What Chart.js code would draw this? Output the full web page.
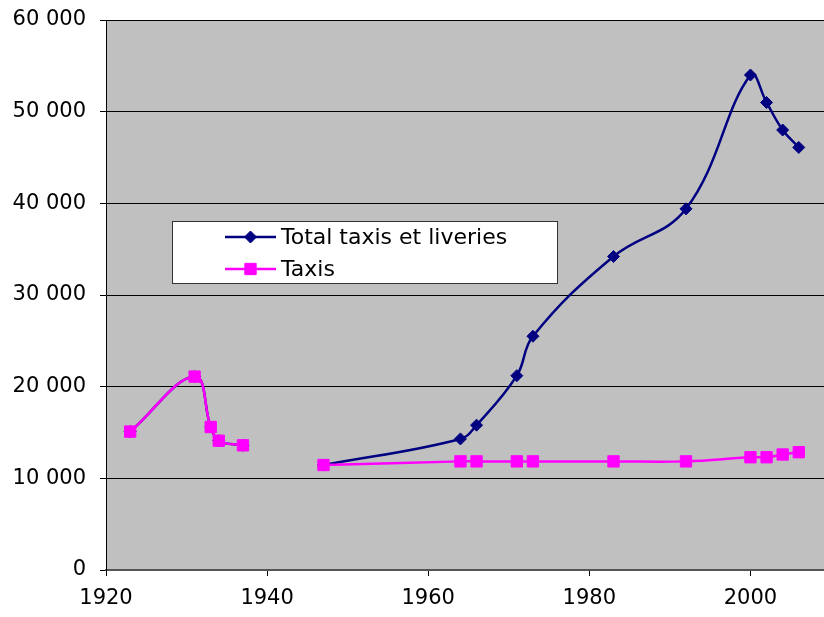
<!DOCTYPE html>
<html>
<head>
<meta charset="utf-8">
<script src="https://cdn.jsdelivr.net/npm/chart.js@4/dist/chart.umd.min.js"></script>
<style>
  html, body { margin: 0; padding: 0; background: #fff; overflow: hidden; }
  canvas { display: block; }
</style>
</head>
<body>
<canvas id="taxiChart" width="840" height="617"></canvas>
<script>
// years (1940 = gap between the two periods)
const years = [1923, 1931, 1933, 1934, 1937, 1940, 1947, 1964, 1966, 1971, 1973, 1983, 1992, 2000, 2002, 2004, 2006];
const totalTaxisLiveries = [15100, 21100, 15600, 14100, 13600, null, 11450, 14300, 15800, 21200, 25500, 34200, 39400, 54000, 51000, 48000, 46100];
const taxis = [15100, 21100, 15600, 14100, 13600, null, 11450, 11850, 11850, 11850, 11850, 11850, 11850, 12300, 12300, 12600, 12850];
const seriesNames = ['Total taxis et liveries', 'Taxis'];
const xTicks = [1920, 1940, 1960, 1980, 2000];
const yTicks = [0, 10000, 20000, 30000, 40000, 50000, 60000];

function fmt(v) {
  return String(v).replace(/\B(?=(\d{3})+(?!\d))/g, ' ');
}

Chart.defaults.font.family = 'DejaVu Sans';
Chart.defaults.font.size = 21;
Chart.defaults.color = '#000';

// grey plot area
const plotBg = {
  id: 'plotBg',
  beforeDraw(chart) {
    const a = chart.chartArea;
    const ctx = chart.ctx;
    ctx.save();
    ctx.fillStyle = '#C0C0C0';
    ctx.fillRect(a.left, a.top, a.right - a.left, a.bottom - a.top);
    ctx.restore();
  }
};

// legend box inside the plot, like the excel one
const boxLegend = {
  id: 'boxLegend',
  afterDraw(chart) {
    const ctx = chart.ctx;
    const x0 = 172, y0 = 221, w = 385, h = 62;
    ctx.save();
    ctx.fillStyle = '#fff';
    ctx.fillRect(x0, y0, w, h);
    ctx.strokeStyle = '#333';
    ctx.lineWidth = 1;
    ctx.strokeRect(x0 + 0.5, y0 + 0.5, w, h);
    const rows = [237, 269];
    const legendOrder = [1, 0]; // dataset index for each row
    legendOrder.forEach((di, r) => {
      const ds = chart.data.datasets[di];
      const y = rows[r];
      ctx.strokeStyle = ds.borderColor;
      ctx.lineWidth = 2.5;
      ctx.beginPath();
      ctx.moveTo(225, y);
      ctx.lineTo(276, y);
      ctx.stroke();
      ctx.fillStyle = ds.pointBackgroundColor;
      ctx.strokeStyle = ds.pointBorderColor;
      ctx.lineWidth = 1;
      Chart.helpers.drawPoint(ctx, {
        pointStyle: ds.pointStyle,
        radius: ds.pointRadius,
        borderWidth: 1
      }, 250.5, y);
      ctx.fillStyle = '#000';
      ctx.font = '22px "DejaVu Sans"';
      ctx.textAlign = 'left';
      ctx.textBaseline = 'middle';
      ctx.fillText(ds.label, 281, y + 1);
    });
    ctx.restore();
  }
};

const ctx = document.getElementById('taxiChart').getContext('2d');
new Chart(ctx, {
  type: 'line',
  data: {
    datasets: [
      {
        label: seriesNames[1],
        data: years.map((y, i) => ({ x: y, y: taxis[i] })),
        borderColor: '#FF00FF',
        backgroundColor: '#FF00FF',
        pointBackgroundColor: '#FF00FF',
        pointBorderColor: '#FF00FF',
        pointStyle: 'rect',
        pointRadius: 8,
        pointBorderWidth: 1,
        borderWidth: 2.5,
        tension: 0.4,
        spanGaps: false,
        order: 0
      },
      {
        label: seriesNames[0],
        data: years.map((y, i) => ({ x: y, y: totalTaxisLiveries[i] })),
        borderColor: '#000080',
        backgroundColor: '#000080',
        pointBackgroundColor: '#000080',
        pointBorderColor: '#000080',
        pointStyle: 'rectRot',
        pointRadius: 6,
        pointBorderWidth: 1,
        borderWidth: 2.5,
        tension: 0.4,
        spanGaps: false,
        order: 1
      }
    ]
  },
  options: {
    responsive: false,
    animation: false,
    layout: { padding: { top: 20, right: 7, left: 0, bottom: 0 } },
    plugins: {
      legend: { display: false },
      tooltip: { enabled: false }
    },
    scales: {
      x: {
        type: 'linear',
        min: 1920,
        max: 2010,
        afterBuildTicks(scale) { scale.ticks = xTicks.map(v => ({ value: v })); },
        afterFit(scale) { scale.height = 47; },
        ticks: {
          padding: 10,
          maxRotation: 0,
          autoSkip: false,
          callback: v => String(v)
        },
        grid: { drawOnChartArea: false, drawTicks: true, tickLength: 6, color: '#000' },
        border: { color: '#555', width: 2 }
      },
      y: {
        min: 0,
        max: 60000,
        afterBuildTicks(scale) { scale.ticks = yTicks.map(v => ({ value: v })); },
        afterFit(scale) {
          scale.width = 106;
          scale.paddingTop = 0;
          scale.paddingBottom = 0;
        },
        ticks: {
          padding: 14,
          callback: v => fmt(v)
        },
        grid: { color: '#000', tickLength: 6, lineWidth: 1 },
        border: { color: '#000', width: 1 }
      }
    }
  },
  plugins: [plotBg, boxLegend]
});
</script>
</body>
</html>
